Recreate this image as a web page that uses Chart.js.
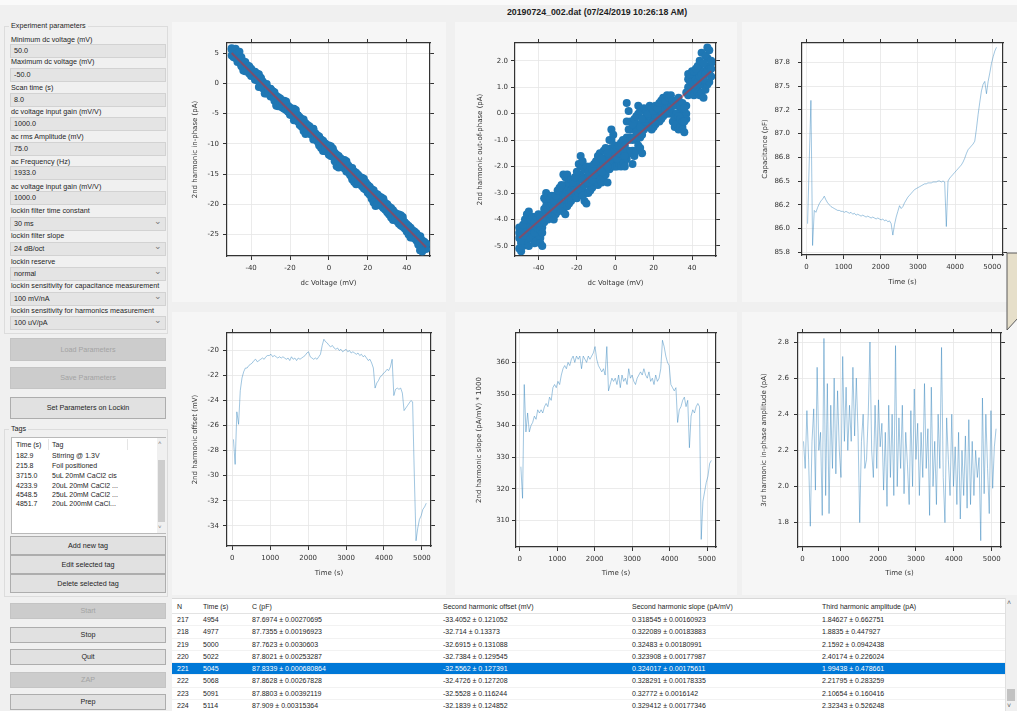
<!DOCTYPE html>
<html>
<head>
<meta charset="utf-8">
<title>20190724_002.dat</title>
<script src="https://cdn.jsdelivr.net/npm/chart.js@4/dist/chart.umd.min.js"></script>
<style>
  * { box-sizing: border-box; }
  body { margin: 0; width: 1017px; height: 711px; overflow: hidden; position: relative;
         background: #f0f0f0; font-family: "Liberation Sans", Arial, sans-serif; color: #1e1e1e; }
  .abs { position: absolute; }
  .lbl { position: absolute; left: 11px; font-size: 7.2px; line-height: 10px; white-space: nowrap; }
  .fld { position: absolute; left: 10px; width: 156px; height: 14px; background: #e4e4e4;
         border: 1px solid #d2d2d2; font-size: 7.2px; line-height: 12px; padding-left: 3px; }
  .sel::after { content: "\2304"; position: absolute; right: 3px; top: -3px; font-size: 9px; color: #777; }
  .btn { position: absolute; left: 10px; width: 156px; background: #e1e1e1; border: 1px solid #adadad;
         font-size: 7.2px; text-align: center; }
  .btn.off { background: #cccccc; border-color: #c4c4c4; color: #a3a3a3; }
  .grp { position: absolute; left: 4px; width: 164px; border: 1px solid #dcdcdc; }
  .grpt { position: absolute; left: 9px; font-size: 7.2px; padding: 0 2px; background: #f0f0f0; line-height: 10px; }
  canvas { position: absolute; background: #f6f6f6; }
  .tbl { position: absolute; left: 172px; top: 598px; width: 833px; height: 113px; background: #fff;
         border-top: 1px solid #d8d8d8; font-size: 7px; overflow: hidden; }
  .row { position: absolute; left: 0; width: 833px; height: 12.25px; line-height: 12.25px; border-bottom: 1px solid #f2f2f2; }
  .row.hd { height: 15px; line-height: 16px; border-bottom: 1px solid #e3e3e3; }
  .row.on { background: #0078d7; color: #fff; }
  .row span { position: absolute; white-space: nowrap; }
  .tags { position: absolute; left: 11px; top: 437px; width: 155px; height: 97px; background: #fff;
          border: 1px solid #b9b9b9; font-size: 7px; }
  .tags div { position: absolute; white-space: nowrap; }
</style>
</head>
<body>

<div class="abs" style="left:0;top:0;width:1017px;height:5px;background:#fafafa"></div>
<div class="abs" style="left:172px;top:7px;width:850px;text-align:center;font-weight:bold;font-size:8.8px;line-height:11px">20190724_002.dat (07/24/2019 10:26:18 AM)</div>

<!-- parameter panel -->
<div class="grp" style="top:26px;height:308px"></div>
<div class="grpt" style="top:21px">Experiment parameters</div>
<div class="lbl" style="top:35px">Minimum dc voltage (mV)</div>
<div class="fld" style="top:44px">50.0</div>
<div class="lbl" style="top:57px">Maximum dc voltage (mV)</div>
<div class="fld" style="top:68px">-50.0</div>
<div class="lbl" style="top:83px">Scan time (s)</div>
<div class="fld" style="top:93px">8.0</div>
<div class="lbl" style="top:107px">dc voltage input gain (mV/V)</div>
<div class="fld" style="top:117px">1000.0</div>
<div class="lbl" style="top:132px">ac rms Amplitude (mV)</div>
<div class="fld" style="top:142px">75.0</div>
<div class="lbl" style="top:157px">ac Frequency (Hz)</div>
<div class="fld" style="top:166px">1933.0</div>
<div class="lbl" style="top:182px">ac voltage input gain (mV/V)</div>
<div class="fld" style="top:191px">1000.0</div>
<div class="lbl" style="top:206px">lockin filter time constant</div>
<div class="fld sel" style="top:217px">30 ms</div>
<div class="lbl" style="top:231px">lockin filter slope</div>
<div class="fld sel" style="top:242px">24 dB/oct</div>
<div class="lbl" style="top:257px">lockin reserve</div>
<div class="fld sel" style="top:267px">normal</div>
<div class="lbl" style="top:281px">lockin sensitivity for capacitance measurement</div>
<div class="fld sel" style="top:292px">100 mV/nA</div>
<div class="lbl" style="top:306px">lockin sensitivity for harmonics measurement</div>
<div class="fld sel" style="top:316px">100 uV/pA</div>

<div class="btn off" style="top:338px;height:23px;line-height:21px">Load Parameters</div>
<div class="btn off" style="top:367px;height:22px;line-height:20px">Save Parameters</div>
<div class="btn" style="top:397px;height:22px;line-height:20px">Set Parameters on Lockin</div>

<div class="grp" style="top:429px;height:168px"></div>
<div class="grpt" style="top:424px">Tags</div>
<div class="tags">
  <div style="left:4px;top:3px">Time (s)</div><div style="left:40px;top:3px">Tag</div>
  <div style="left:36px;top:1px;width:1px;height:11px;background:#e5e5e5"></div>
  <div style="left:115px;top:1px;width:1px;height:11px;background:#e5e5e5"></div>
  <div style="left:4px;top:14px">182.9</div><div style="left:40px;top:14px">Stirring @ 1.3V</div>
  <div style="left:4px;top:23.5px">215.8</div><div style="left:40px;top:23.5px">Foil positioned</div>
  <div style="left:4px;top:34px">3715.0</div><div style="left:40px;top:34px">5uL 20mM CaCl2 cis</div>
  <div style="left:4px;top:44px">4233.9</div><div style="left:40px;top:44px">20uL 20mM CaCl2 ...</div>
  <div style="left:4px;top:53px">4548.5</div><div style="left:40px;top:53px">25uL 20mM CaCl2 ...</div>
  <div style="left:4px;top:62px">4851.7</div><div style="left:40px;top:62px">20uL 200mM CaCl...</div>
  <div style="left:145px;top:0;width:9px;height:95px;background:#f0f0f0"></div>
  <div style="left:146px;top:22px;width:7px;height:62px;background:#cdcdcd"></div>
  <div style="left:146px;top:2px;font-size:6px;color:#777">&#708;</div>
  <div style="left:146px;top:86px;font-size:6px;color:#777">&#709;</div>
</div>
<div class="btn" style="top:536px;height:19px;line-height:17px">Add new tag</div>
<div class="btn" style="top:555px;height:19px;line-height:17px">Edit selected tag</div>
<div class="btn" style="top:574px;height:19px;line-height:17px">Delete selected tag</div>

<div class="btn off" style="top:603px;height:16px;line-height:14px">Start</div>
<div class="btn" style="top:627px;height:16px;line-height:14px">Stop</div>
<div class="btn" style="top:649px;height:16px;line-height:14px">Quit</div>
<div class="btn off" style="top:672px;height:16px;line-height:14px">ZAP</div>
<div class="btn" style="top:694px;height:16px;line-height:14px">Prep</div>

<!-- plots -->
<canvas id="inPhase" width="274" height="280" style="left:172px;top:22px"></canvas>
<canvas id="outPhase" width="282" height="280" style="left:455px;top:22px"></canvas>
<canvas id="cap" width="275" height="280" style="left:742px;top:22px"></canvas>
<canvas id="offset" width="274" height="283" style="left:172px;top:312px"></canvas>
<canvas id="slope" width="282" height="283" style="left:455px;top:312px"></canvas>
<canvas id="third" width="275" height="283" style="left:742px;top:312px"></canvas>

<svg class="abs" style="left:1000px;top:250px" width="17" height="85">
  <polygon points="7,3 18,3 18,68 7,80" fill="#e6dfca" stroke="#5a5a5a" stroke-width="1"/>
</svg>

<!-- results table -->
<div class="tbl">
  <div class="row hd" style="top:0"><span style="left:5px">N</span><span style="left:31px">Time (s)</span><span style="left:80px">C (pF)</span><span style="left:271px">Second harmonic offset (mV)</span><span style="left:460px">Second harmonic slope (pA/mV)</span><span style="left:650px">Third harmonic amplitude (pA)</span></div>
  <div class="row" style="top:15.2px"><span style="left:5px">217</span><span style="left:31px">4954</span><span style="left:80px">87.6974 ± 0.00270695</span><span style="left:271px">-33.4052 ± 0.121052</span><span style="left:460px">0.318545 ± 0.00160923</span><span style="left:650px">1.84627 ± 0.662751</span></div>
  <div class="row" style="top:27.45px"><span style="left:5px">218</span><span style="left:31px">4977</span><span style="left:80px">87.7355 ± 0.00196923</span><span style="left:271px">-32.714 ± 0.13373</span><span style="left:460px">0.322089 ± 0.00183883</span><span style="left:650px">1.8835 ± 0.447927</span></div>
  <div class="row" style="top:39.7px"><span style="left:5px">219</span><span style="left:31px">5000</span><span style="left:80px">87.7623 ± 0.0030603</span><span style="left:271px">-32.6915 ± 0.131088</span><span style="left:460px">0.32483 ± 0.00180991</span><span style="left:650px">2.1592 ± 0.0942438</span></div>
  <div class="row" style="top:51.95px"><span style="left:5px">220</span><span style="left:31px">5022</span><span style="left:80px">87.8021 ± 0.00253287</span><span style="left:271px">-32.7384 ± 0.129545</span><span style="left:460px">0.323908 ± 0.00177987</span><span style="left:650px">2.40174 ± 0.226024</span></div>
  <div class="row on" style="top:64.2px"><span style="left:5px">221</span><span style="left:31px">5045</span><span style="left:80px">87.8339 ± 0.000680864</span><span style="left:271px">-32.5562 ± 0.127391</span><span style="left:460px">0.324017 ± 0.00175611</span><span style="left:650px">1.99438 ± 0.478661</span></div>
  <div class="row" style="top:76.45px"><span style="left:5px">222</span><span style="left:31px">5068</span><span style="left:80px">87.8628 ± 0.00267828</span><span style="left:271px">-32.4726 ± 0.127208</span><span style="left:460px">0.328291 ± 0.00178335</span><span style="left:650px">2.21795 ± 0.283259</span></div>
  <div class="row" style="top:88.7px"><span style="left:5px">223</span><span style="left:31px">5091</span><span style="left:80px">87.8803 ± 0.00392119</span><span style="left:271px">-32.5528 ± 0.116244</span><span style="left:460px">0.32772 ± 0.0016142</span><span style="left:650px">2.10654 ± 0.160416</span></div>
  <div class="row" style="top:100.95px"><span style="left:5px">224</span><span style="left:31px">5114</span><span style="left:80px">87.909 ± 0.00315364</span><span style="left:271px">-32.1839 ± 0.124852</span><span style="left:460px">0.329412 ± 0.00177346</span><span style="left:650px">2.32343 ± 0.526248</span></div>
</div>
<div class="abs" style="left:1005px;top:598px;width:12px;height:113px;background:#f0f0f0;border-left:1px solid #e0e0e0"></div>
<div class="abs" style="left:1007px;top:599px;font-size:7px;color:#666">&#708;</div>
<div class="abs" style="left:1007px;top:689px;width:8px;height:12px;background:#c2c2c2"></div>
<div class="abs" style="left:1007px;top:702px;font-size:7px;color:#666">&#709;</div>

<script>
// dc sweep, mV
const dcVoltage = [
  -50,-49,-48,-47,-46,-45,-44,-43,-42,-41,-40,-39,-38,-37,-36,-35,-34,-33,-32,-31,
  -30,-29,-28,-27,-26,-25,-24,-23,-22,-21,-20,-19,-18,-17,-16,-15,-14,-13,-12,-11,
  -10,-9,-8,-7,-6,-5,-4,-3,-2,-1,0,1,2,3,4,5,6,7,8,9,
  10,11,12,13,14,15,16,17,18,19,20,21,22,23,24,25,26,27,28,29,
  30,31,32,33,34,35,36,37,38,39,40,41,42,43,44,45,46,47,48,49,50
];

// 2nd harmonic in-phase (pA), three passes of the sweep
const inPhaseUp = [
  5.8,5.5,5.7,5.0,5.2,4.3,3.6,3.5,3.0,2.8,
  2.3,2.0,1.9,1.2,0.6,0.9,0.3,-0.2,-0.1,-0.8,
  -1.0,-1.3,-1.5,-2.1,-2.3,-2.5,-3.0,-3.1,-3.5,-3.9,
  -4.0,-4.4,-4.3,-5.0,-5.3,-5.6,-5.9,-6.0,-6.6,-6.9,
  -7.1,-7.7,-7.6,-8.3,-8.6,-8.8,-9.3,-9.5,-9.9,-10.3,
  -10.4,
  -10.9,-11.0,-11.5,-11.8,-12.0,-12.4,-12.7,-13.0,-13.2,-13.6,
  -13.9,-14.0,-14.6,-14.8,-15.1,-15.5,-15.9,-16.1,-16.4,-16.8,
  -17.1,-17.5,-17.7,-18.2,-18.4,-18.7,-19.1,-19.3,-19.8,-20.0,
  -20.4,-20.6,-21.0,-21.4,-21.6,-22.0,-22.2,-22.5,-23.0,-23.3,
  -23.6,-23.9,-24.3,-24.5,-24.8,-25.2,-25.3,-26.0,-26.3,-26.5
];
const inPhaseMid = [
  5.6,5.6,5.3,5.0,4.0,2.8,2.1,2.0,2.2,2.6,
  2.4,1.8,0.8,1.6,1.5,0.8,-0.8,-1.7,-1.7,-1.3,
  -0.9,-1.3,-2.9,-3.7,-3.8,-3.4,-3.1,-2.9,-3.0,-3.7,
  -4.9,-4.5,-4.2,-4.4,-5.3,-6.6,-7.2,-7.9,-8.4,-8.2,
  -7.6,-7.5,-7.5,-8.3,-9.4,-10.3,-10.7,-11.2,-10.8,-10.2,
  -10.3,
  -10.4,-10.8,-12.5,-13.7,-13.9,-13.3,-12.7,-12.7,-12.9,-13.9,
  -15.1,-15.9,-16.3,-16.7,-16.3,-15.7,-15.6,-15.8,-16.8,-17.8,
  -18.4,-19.1,-19.7,-20.3,-19.9,-19.2,-18.9,-19.1,-19.9,-20.9,
  -21.7,-22.2,-22.6,-22.4,-21.9,-21.7,-21.8,-22.1,-23.0,-24.2,
  -25.0,-25.5,-25.5,-24.9,-25.3,-26.7,-27.6,-27.8,-26.2,-26.6
];
const inPhaseDown = [
  4.6,4.3,4.2,3.5,3.8,3.0,2.9,2.2,2.3,1.6,
  1.2,1.3,0.6,0.5,-0.6,-0.4,-0.5,-1.2,-1.3,-1.7,
  -2.2,-2.2,-2.6,-3.6,-3.3,-3.5,-4.0,-4.2,-4.4,-4.7,
  -5.2,-5.3,-6.1,-6.0,-6.3,-6.9,-7.0,-7.2,-7.8,-7.9,
  -8.3,-8.5,-9.3,-9.2,-9.6,-10.0,-10.2,-10.5,-11.2,-11.3,
  -11.8,
  -12.0,-12.1,-12.9,-13.2,-13.1,-13.4,-13.8,-14.1,-14.6,-14.7,
  -15.2,-15.6,-15.7,-16.1,-16.5,-16.7,-17.0,-17.4,-17.6,-18.1,
  -18.4,-18.9,-19.5,-20.0,-19.8,-20.1,-20.3,-20.6,-20.9,-21.3,
  -21.6,-21.9,-22.3,-22.5,-22.8,-23.2,-23.5,-23.7,-24.0,-24.5,
  -24.8,-25.0,-25.2,-25.6,-26.0,-26.5,-27.6,-26.9,-27.2,-27.4
];

// 2nd harmonic out-of-phase (pA), four passes of the sweep
const outPhaseA = [
  -4.3,-4.5,-4.2,-4.0,-3.8,-3.7,-4.0,-3.9,-4.1,-3.9,
  -3.8,-3.9,-4.0,-3.2,-3.0,-3.1,-3.2,-3.1,-3.3,-3.1,
  -2.9,-2.8,-2.7,-2.3,-2.4,-2.3,-2.6,-2.5,-2.6,-2.4,
  -2.2,-1.9,-1.6,-1.8,-2.1,-2.0,-2.2,-2.0,-2.1,-1.9,
  -1.8,-1.6,-1.5,-1.7,-1.4,-1.3,-1.5,-1.0,-0.6,-0.8,
  -1.2,
  -1.3,-1.2,-1.1,-1.0,-1.2,0.4,0.1,-0.3,-0.4,-0.2,
  -0.1,0.3,0.1,-0.2,0.2,0.1,0.0,0.3,0.2,0.1,
  0.3,0.2,0.4,0.5,0.6,0.5,0.7,0.6,0.7,0.5,
  0.4,0.5,0.6,0.3,0.4,0.2,0.8,1.5,1.5,1.6,
  1.6,1.7,1.8,2.0,2.3,1.9,2.2,2.5,2.4,2.0
];
const outPhaseB = [
  -4.7,-4.8,-4.6,-4.5,-4.4,-4.2,-4.4,-4.3,-4.5,-4.3,
  -4.2,-4.4,-4.5,-3.6,-3.5,-3.6,-3.5,-3.4,-3.6,-3.5,
  -3.3,-3.2,-3.1,-3.0,-3.1,-2.9,-3.0,-2.9,-2.8,-2.8,
  -2.7,-2.5,-2.3,-2.5,-2.7,-2.6,-2.6,-2.4,-2.5,-2.3,
  -2.2,-2.1,-2.0,-2.2,-1.9,-1.8,-2.0,-1.6,-1.3,-1.4,
  -1.6,
  -1.7,-1.5,-1.5,-1.4,-1.6,-0.9,-0.6,-0.9,-1.0,-0.9,
  -0.7,-0.4,-0.5,-0.8,-0.2,-0.3,-0.2,-0.1,-0.2,-0.3,
  -0.1,-0.1,0.1,0.1,0.2,0.2,0.3,0.3,0.4,0.0,
  -0.1,0.0,-0.1,-0.2,-0.3,-0.3,0.3,1.0,1.2,1.2,
  1.1,1.3,1.2,1.4,1.5,1.3,1.5,1.7,1.8,1.7
];
const outPhaseC = [
  -5.1,-5.2,-5.0,-4.9,-4.8,-5.0,-4.7,-4.6,-4.9,-4.8,
  -4.6,-4.9,-5.0,-4.1,-3.9,-4.0,-3.8,-3.9,-4.0,-3.8,
  -3.7,-3.6,-3.5,-3.7,-3.8,-3.5,-3.4,-3.3,-3.2,-3.1,
  -3.2,-3.0,-2.9,-3.1,-3.3,-3.4,-3.0,-2.9,-2.8,-2.7,
  -2.6,-2.7,-2.5,-2.6,-2.4,-2.3,-2.6,-2.1,-1.9,-2.0,
  -2.0,
  -2.0,-1.9,-2.0,-1.8,-2.0,-1.7,-1.4,-1.5,-1.9,-1.6,
  -1.4,-1.2,-1.3,-1.5,-0.6,-0.5,-0.5,-0.4,-0.6,-0.5,
  -0.4,-0.3,-0.3,-0.2,-0.1,0.0,0.0,0.1,0.0,-0.3,
  -0.5,-0.4,-0.6,-0.5,-0.6,-0.7,-0.2,0.7,0.8,0.8,
  0.7,0.9,0.8,0.7,0.8,0.6,0.9,1.1,1.2,1.4
];
const outPhaseD = [
  -4.5,-4.9,-4.4,-4.7,-4.1,-4.6,-4.3,-4.5,-4.3,-4.6,
  -4.0,-4.7,-4.3,-3.8,-3.3,-3.8,-3.4,-3.7,-3.4,-3.7,
  -3.1,-3.4,-2.9,-3.4,-2.7,-3.2,-2.8,-3.1,-2.7,-3.0,
  -2.5,-2.8,-2.0,-2.8,-2.4,-3.0,-2.4,-2.7,-2.3,-2.5,
  -2.0,-2.4,-1.8,-2.4,-1.7,-2.1,-1.8,-1.9,-1.0,-1.7,
  -1.4,
  -1.9,-1.3,-1.8,-1.2,-1.8,-0.3,-1.0,-0.6,-1.4,-0.5,
  -1.0,0.0,-0.9,-0.5,-0.4,-0.1,-0.4,0.1,-0.4,-0.1,
  -0.3,0.1,-0.1,0.3,0.0,0.4,0.2,0.5,0.2,0.3,
  -0.3,0.3,-0.4,0.1,-0.5,0.0,0.0,1.3,1.0,1.4,
  0.9,1.5,1.0,1.7,1.1,1.6,1.2,2.1,1.5,1.9
];

// linear fits drawn over the scans
const fitVoltage = [-50, 50];
const inPhaseFit = [5.0, -27.1];
const outPhaseFit = [-4.7, 1.6];

// time series, s
const times = [
  30,75,120,165,210,255,300,345,390,435,
  480,525,570,615,660,705,750,795,840,885,
  930,975,1020,1065,1110,1155,1200,1245,1290,1335,
  1380,1425,1470,1515,1560,1605,1650,1695,1740,1785,
  1830,1875,1920,1965,2010,2055,2100,2145,2190,2235,
  2280,2325,2370,2415,2460,2505,2550,2595,2640,2685,
  2730,2775,2820,2865,2910,2955,3000,3045,3090,3135,
  3180,3225,3270,3315,3360,3405,3450,3495,3540,3585,
  3630,3675,3720,3765,3810,3855,3900,3945,3990,4035,
  4080,4125,4170,4215,4260,4305,4350,4395,4440,4485,
  4530,4575,4620,4665,4710,4755,4800,4845,4890,4935,
  4980,5025,5070,5115
];
const capacitance = [
  86.05,86.70,87.35,85.82,86.19,86.17,86.22,86.26,86.29,86.31,
  86.34,86.30,86.27,86.25,86.23,86.22,86.21,86.20,86.19,86.19,
  86.18,86.18,86.17,86.18,86.17,86.16,86.17,86.15,86.16,86.14,
  86.15,86.14,86.13,86.14,86.13,86.12,86.13,86.12,86.11,86.12,
  86.11,86.10,86.11,86.10,86.09,86.10,86.08,86.09,86.07,86.08,
  86.05,85.93,86.04,86.12,86.18,86.24,86.21,86.23,86.27,86.30,
  86.33,86.35,86.37,86.39,86.41,86.42,86.43,86.44,86.45,86.46,
  86.47,86.47,86.48,86.48,86.48,86.49,86.49,86.49,86.50,86.50,
  86.49,86.50,86.49,86.02,86.50,86.53,86.55,86.57,86.59,86.61,
  86.63,86.65,86.67,86.70,86.74,86.79,86.83,86.85,86.87,86.89,
  86.92,87.05,87.20,87.33,87.45,87.52,87.55,87.42,87.55,87.64,
  87.74,87.81,87.87,87.91
];
const harmonicOffset = [
  -27.1,-29.1,-24.9,-25.9,-23.2,-22.2,-21.7,-21.4,-21.4,-21.2,
  -21.1,-21.0,-20.8,-20.7,-20.9,-20.8,-20.7,-20.6,-20.7,-20.5,
  -20.4,-20.4,-20.3,-20.5,-20.4,-20.5,-20.6,-20.5,-20.6,-20.5,
  -20.6,-20.7,-20.6,-20.8,-20.5,-20.7,-20.6,-20.8,-20.6,-20.7,
  -20.6,-20.5,-20.4,-20.2,-20.1,-20.5,-20.6,-20.7,-20.6,-20.7,
  -20.5,-20.3,-19.6,-19.1,-19.3,-19.4,-19.6,-19.7,-19.6,-19.8,
  -19.9,-19.8,-20.0,-19.9,-20.1,-20.0,-19.9,-20.1,-20.0,-20.2,
  -20.1,-20.2,-20.3,-20.2,-20.4,-20.3,-20.5,-20.4,-20.6,-20.8,
  -20.7,-21.0,-21.4,-23.0,-22.6,-22.4,-22.1,-22.0,-21.8,-21.7,
  -21.5,-21.6,-21.3,-20.7,-23.6,-23.1,-23.0,-23.1,-23.0,-23.4,
  -24.8,-24.6,-24.4,-24.2,-24.0,-24.1,-30.0,-35.2,-34.2,-33.5,
  -33.2,-32.7,-32.5,-32.2
];
const harmonicSlope = [
  327,317,353,338,344,338,340,341,343,342,
  345,344,345,344,346,347,346,349,348,352,
  353,352,354,353,356,358,359,358,360,359,
  361,362,360,362,361,362,358,362,361,360,
  362,361,362,363,365,361,359,358,357,358,
  356,365,351,353,355,354,355,353,356,352,
  356,354,355,353,358,355,356,354,353,355,
  356,357,356,358,356,355,357,354,355,353,
  356,354,355,358,367,365,362,360,359,353,
  352,351,352,341,345,346,348,349,346,348,
  333,343,345,344,346,347,346,304,316,319,
  322,324,328,329
];
const thirdHarmonic = [
  2.25,2.10,2.42,2.15,1.78,2.25,2.43,1.98,2.66,2.20,
  2.30,1.84,2.82,1.95,2.57,1.85,2.45,2.10,2.60,2.07,
  2.53,2.20,2.05,2.72,2.25,2.55,2.20,2.45,2.25,2.66,
  2.28,2.60,2.30,1.80,2.25,2.40,2.10,2.15,2.40,2.80,
  2.20,2.05,2.45,2.10,2.48,2.22,2.35,1.98,2.30,1.89,
  2.45,2.05,2.40,1.95,2.78,2.00,2.38,2.10,2.45,1.96,
  2.30,2.12,1.90,2.42,2.00,2.54,2.15,2.35,1.95,2.30,
  2.05,2.57,2.10,2.32,1.84,2.55,2.00,2.25,1.90,2.40,
  2.10,2.77,2.05,1.80,2.38,2.15,1.95,2.40,2.00,2.22,
  1.90,2.30,1.82,2.20,1.95,2.28,1.88,2.37,1.90,2.25,
  1.95,2.20,2.05,2.16,1.70,2.49,1.96,2.40,2.10,1.85,
  2.42,1.99,2.22,2.32
];

// tick values per axis
const voltageTicks = [-40, -20, 0, 20, 40];
const timeTicks = [0, 1000, 2000, 3000, 4000, 5000];
const inPhaseTicks = [-25, -20, -15, -10, -5, 0, 5];
const outPhaseTicks = [-5, -4, -3, -2, -1, 0, 1, 2];
const capacitanceTicks = [85.75, 86.0, 86.25, 86.5, 86.75, 87.0, 87.25, 87.5, 87.75];
const capacitanceTickLabels = ['85.8', '86.0', '86.2', '86.5', '86.8', '87.0', '87.2', '87.5', '87.8'];
const offsetTicks = [-34, -32, -30, -28, -26, -24, -22, -20];
const slopeTicks = [310, 320, 330, 340, 350, 360];
const thirdTicks = [1.8, 2.0, 2.2, 2.4, 2.6, 2.8];

const INK = '#333333';
const GRID = '#e6e6e6';
const BLUE = '#1f77b4';
const TRACE = 'rgba(31,119,180,0.42)';
const FIT = 'rgba(214,39,40,0.5)';

Chart.defaults.font.family = '"DejaVu Sans", sans-serif';
Chart.defaults.font.size = 7;
Chart.defaults.color = INK;

const whitePlot = {
    id: 'whitePlot',
    beforeDraw(chart) {
        const { ctx, chartArea: a } = chart;
        ctx.save();
        ctx.fillStyle = '#ffffff';
        ctx.fillRect(a.left, a.top, a.right - a.left, a.bottom - a.top);
        ctx.restore();
    }
};

const asText = (v) => String(v);
const oneDecimal = (v) => v.toFixed(1);

const pairs = (xs, ys) => xs.map((x, i) => ({ x, y: ys[i] }));

const dots = (ys, r) => ({
    data: pairs(dcVoltage, ys),
    backgroundColor: BLUE,
    borderWidth: 0,
    pointRadius: r
});

// order -1 puts the fit on top of the scatter passes
const fitLine = (ys) => ({
    data: pairs(fitVoltage, ys),
    showLine: true,
    borderColor: FIT,
    borderWidth: 2,
    pointRadius: 0,
    order: -1
});

const trace = (ys) => ({
    data: pairs(times, ys),
    showLine: true,
    borderColor: TRACE,
    borderWidth: 1,
    pointRadius: 0
});

/**
 * Builds the four axes of one panel: labelled bottom/left ones and
 * mirrored top/right ones that only carry tick marks.
 */
const buildScales = (geo, xAxis, yAxis) => {
    const grid = { color: GRID, lineWidth: 0.8, tickColor: INK, tickLength: 4, tickWidth: 1 };
    const mirrorGrid = { drawOnChartArea: false, tickColor: INK, tickLength: 4, tickWidth: 1 };
    const border = { color: INK, width: 1.2 };
    const ticks = (axis, pad) => ({ autoSkip: false, maxRotation: 0, padding: pad, callback: axis.label });
    const fixedTicks = (axis) => (s) => { s.ticks = axis.ticks.map((value) => ({ value })); };

    return {
        x: {
            type: 'linear', position: 'bottom', min: xAxis.min, max: xAxis.max,
            border, grid, ticks: ticks(xAxis, 4), afterBuildTicks: fixedTicks(xAxis),
            title: { display: true, text: xAxis.title, padding: { top: 0, bottom: geo.xTitlePad } },
            afterFit: (s) => { s.height = geo.bottom; }
        },
        y: {
            type: 'linear', position: 'left', min: yAxis.min, max: yAxis.max,
            border, grid, ticks: ticks(yAxis, geo.yTickPad), afterBuildTicks: fixedTicks(yAxis),
            title: { display: true, text: yAxis.title, padding: { top: geo.yTitlePad, bottom: 0 } },
            afterFit: (s) => { s.width = geo.left; }
        },
        xTop: {
            type: 'linear', position: 'top', min: xAxis.min, max: xAxis.max,
            border, grid: mirrorGrid, ticks: { ...ticks(xAxis, 0), display: false },
            afterBuildTicks: fixedTicks(xAxis),
            afterFit: (s) => { s.height = geo.top; }
        },
        yRight: {
            type: 'linear', position: 'right', min: yAxis.min, max: yAxis.max,
            border, grid: mirrorGrid, ticks: { ...ticks(yAxis, 0), display: false },
            afterBuildTicks: fixedTicks(yAxis),
            afterFit: (s) => { s.width = geo.right; }
        }
    };
};

const drawPanel = (id, geo, xAxis, yAxis, datasets) => {
    new Chart(document.getElementById(id), {
        type: 'scatter',
        data: { datasets },
        options: {
            responsive: false,
            animation: false,
            devicePixelRatio: 1,
            layout: { padding: 0 },
            plugins: { legend: { display: false }, tooltip: { enabled: false } },
            scales: buildScales(geo, xAxis, yAxis)
        },
        plugins: [whitePlot]
    });
};

const voltageAxis = (min, max) => ({ min, max, ticks: voltageTicks, label: asText, title: 'dc Voltage (mV)' });
const timeAxis = (min, max) => ({ min, max, ticks: timeTicks, label: asText, title: 'Time (s)' });

drawPanel('inPhase',
    { left: 55, top: 21, right: 16, bottom: 46, xTitlePad: 15, yTitlePad: 18.8, yTickPad: 4 },
    voltageAxis(-52.4, 52.0),
    { min: -28.55, max: 6.66, ticks: inPhaseTicks, label: asText, title: '2nd harmonic in-phase (pA)' },
    [dots(inPhaseUp, 4), dots(inPhaseMid, 4), dots(inPhaseDown, 4), fitLine(inPhaseFit)]);

drawPanel('outPhase',
    { left: 60, top: 21, right: 21, bottom: 46, xTitlePad: 15, yTitlePad: 20.8, yTickPad: 3 },
    voltageAxis(-52.2, 52.5),
    { min: -5.38, max: 2.67, ticks: outPhaseTicks, label: oneDecimal, title: '2nd harmonic out-of-phase (pA)' },
    [dots(outPhaseA, 4), dots(outPhaseB, 4), dots(outPhaseC, 4), dots(outPhaseD, 4), fitLine(outPhaseFit)]);

drawPanel('cap',
    { left: 60, top: 21, right: 14, bottom: 47, xTitlePad: 16, yTitlePad: 18.8, yTickPad: 8 },
    timeAxis(-120, 5290),
    { min: 85.72, max: 87.955, ticks: capacitanceTicks, label: (v, i) => capacitanceTickLabels[i], title: 'Capacitance (pF)' },
    [trace(capacitance)]);

drawPanel('offset',
    { left: 55, top: 21, right: 15, bottom: 49, xTitlePad: 17.8, yTitlePad: 18.8, yTickPad: 4 },
    timeAxis(-140, 5240),
    { min: -35.62, max: -18.6, ticks: offsetTicks, label: asText, title: '2nd harmonic offset (mV)' },
    [trace(harmonicOffset)]);

drawPanel('slope',
    { left: 61, top: 21, right: 21, bottom: 48, xTitlePad: 17.5, yTitlePad: 20.3, yTickPad: 2.5 },
    timeAxis(-100, 5240),
    { min: 301.6, max: 369.3, ticks: slopeTicks, label: asText, title: '2nd harmonic slope (pA/mV) * 1000' },
    [trace(harmonicSlope)]);

drawPanel('third',
    { left: 56, top: 21, right: 16, bottom: 48, xTitlePad: 17.5, yTitlePad: 17.8, yTickPad: 5 },
    timeAxis(-115, 5245),
    { min: 1.665, max: 2.85, ticks: thirdTicks, label: oneDecimal, title: '3rd harmonic in-phase amplitude (pA)' },
    [trace(thirdHarmonic)]);
</script>
</body>
</html>
